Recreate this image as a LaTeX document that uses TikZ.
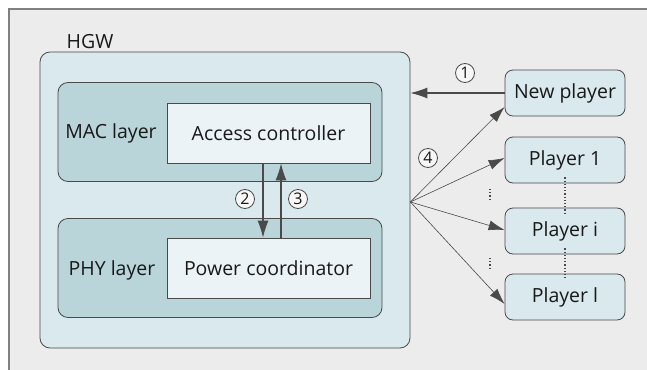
\documentclass[tikz,border=0pt]{standalone}
\usepackage{fontspec}
\setmainfont{Open Sans}
\usepackage{tikz}
\usetikzlibrary{positioning, arrows.meta, calc}
\definecolor{framegray}{HTML}{ECECEC}
\definecolor{hgwblue}{HTML}{D9E9EE}
\definecolor{layerteal}{HTML}{B9D5DA}
\definecolor{boxwhite}{HTML}{EBF3F6}
\definecolor{linegray}{HTML}{4A4A4A}
\tikzset{
  hgwbox/.style={rectangle, rounded corners=10pt, draw=linegray, fill=hgwblue},
  layerbox/.style={rectangle, rounded corners=10pt, draw=linegray, fill=layerteal, minimum width=324pt, minimum height=99pt},
  funcbox/.style={rectangle, draw=linegray, fill=boxwhite, minimum width=203pt, minimum height=60pt},
  playerbox/.style={rectangle, rounded corners=8pt, draw=linegray, fill=hgwblue, minimum width=120pt, minimum height=46pt},
  stepnum/.style={circle, draw=linegray, fill=white!60!framegray, inner sep=1pt, minimum size=19pt, font=\fontsize{16}{16}\selectfont},
  arrow/.style={draw=linegray, line width=1.1pt, -{Latex[length=17pt,width=11pt]}},
  fanarrow/.style={draw=linegray, line width=0.6pt, -{Latex[length=16pt,width=10pt]}},
  vdots/.style={draw=linegray, line width=1.2pt, dash pattern=on 1.2pt off 2pt}
}

\begin{document}
\begin{tikzpicture}[
    x=1pt, y=-1pt, line width=0.8pt,
    every node/.style={font=\fontsize{19.5}{22}\selectfont, text=black!90}
]
    \useasboundingbox (0,0) rectangle (647,369);
    \clip (0,0) rectangle (647,369);
    \draw[draw=black!50, line width=1.5pt, fill=framegray] (9,9) rectangle (680,400);

    % gateway and its layers
    \node (hgw) [hgwbox, minimum width=370pt, minimum height=296pt] at (225,200) {};
    \node (hgwlabel) at (90,42) {HGW};
    \node (mac) [layerbox] at (220,132) {};
    \node (ac) [funcbox] at (268.5,133) {Access controller};
    \node (maclabel) at (111,133) {MAC layer};
    \node (phy) [layerbox] at (220,268) {};
    \node (pc) [funcbox] at (268.5,268) {Power coordinator};
    \node (phylabel) at (112,270) {PHY layer};

    % players
    \node (newp) [playerbox] at (565,93) {New player};
    \node (pone) [playerbox] at (565,160) {Player 1};
    \node (pi) [playerbox] at (565,231) {Player i};
    \node (pl) [playerbox] at (565,297) {Player l};

    \draw [arrow] ([xshift=-5.5pt]ac.south) -- ([xshift=-5.5pt]pc.north);
    \draw [arrow] ([xshift=12.5pt]pc.north) -- ([xshift=12.5pt]ac.south);
    \node (two) [stepnum] at (245,199) {2};
    \node (three) [stepnum] at (298,199) {3};

    \draw [arrow] (newp.west) -- (newp.west -| hgw.east);
    \node (one) [stepnum] at (465,73) {1};

    \coordinate (fan) at ([yshift=-2pt]hgw.east);
    \draw [fanarrow] (fan) -- ([yshift=-14pt]newp.west);
    \draw [fanarrow] (fan) -- ([yshift=2pt]pone.west);
    \draw [fanarrow] (fan) -- ([yshift=1pt]pi.west);
    \draw [fanarrow] (fan) -- ([yshift=-7pt]pl.west);
    \node (four) [stepnum] at (428,158) {4};

    \draw [vdots] ([yshift=6pt]pone.south) -- ([yshift=-6pt]pi.north);
    \draw [vdots] ([yshift=6pt]pi.south) -- ([yshift=-6pt]pl.north);
    \draw [vdots] (490,189) -- (490,201);
    \draw [vdots] (490,258) -- (490,270);
\end{tikzpicture}
\end{document}
